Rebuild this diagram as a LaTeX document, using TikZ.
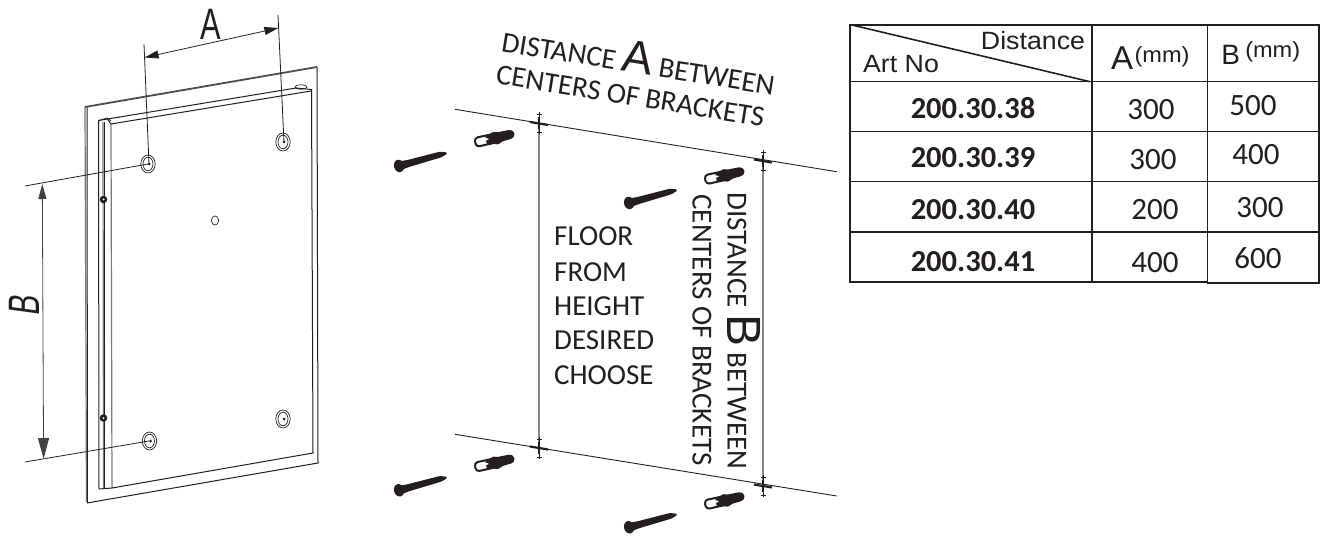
\documentclass[tikz,border=0pt]{standalone}
\usepackage{fontspec}
\setmainfont{Carlito}
\newfontfamily\arialf{Liberation Sans}
\usetikzlibrary{arrows.meta}
\definecolor{ink}{HTML}{231F20}
\tikzset{
  fr/.style={draw=ink,line width=1pt},
  frg/.style={draw=ink!60,line width=1.2pt},
  ext/.style={draw=ink,line width=0.8pt},
  dimA/.style={draw=ink,line width=0.8pt,{Triangle[length=14pt,width=8pt]}-{Triangle[length=14pt,width=8pt]}},
  dimB/.style={draw=ink!85,line width=0.8pt,{Triangle[length=15pt,width=8pt]}-{Triangle[length=21pt,width=11pt]}},
  ring/.style={draw=ink,line width=0.7pt},
  guide/.style={draw=ink,line width=0.9pt},
  plumb/.style={draw=ink!55,line width=1.4pt},
  txt/.style={inner sep=0pt,text=ink,font=\fontsize{29}{30}\selectfont},
  arl/.style={inner sep=0pt,text=ink,font=\arialf\fontsize{25}{26}\selectfont},
  mm/.style={inner sep=0pt,text=ink,xscale=1.07,font=\arialf\fontsize{22}{24}\selectfont},
  num/.style={inner sep=0pt,text=ink,font=\fontsize{31}{32}\selectfont},
  art/.style={inner sep=0pt,text=ink,font=\bfseries\fontsize{30.5}{31}\selectfont},
  tb/.style={draw=ink,line width=1.6pt},
  screwpic/.pic={
    \fill[ink] (-1,0) ellipse (5 and 6.3);
    \fill[ink,rounded corners=1pt] (0,-4.5) -- (8,-3.6) -- (42,-3.2) -- (48.5,-0.8) -- (48.5,0.8) -- (42,2.6) -- (8,3.6) -- (0,4.5) -- cycle;
  },
  anchorpic/.pic={
    \draw[ink,line width=2pt,rounded corners=3.5pt,fill=white] (1,-4.6) -- (22,-4.6) -- (22,4.2) -- (1,4.6) -- cycle;
    \fill[ink,rounded corners=1.5pt] (12,-4.6) -- (18,-5) -- (20,-7.2) -- (24,-5.4) -- (38,-5.2) -- (41,-2.6) -- (41,1.6) -- (38,3.8) -- (27,4.6) -- (23,7) -- (19,5) -- (12,5) -- cycle;
    \fill[white] (4,-2) -- (13,-2) -- (15,-0.4) -- (4,2.2) -- cycle;
  },
  crosspic/.pic={
    \draw[ink,line width=2.2pt] (-9,-1.5) -- (9,1.5);
    \draw[ink,line width=2.4pt] (0,-6) -- (0,6);
    \draw[ink,line width=1pt] (0,-11) -- (0,11);
    \draw[ink,line width=0.8pt] (-2.5,-9) -- (2.5,-9) (-2.5,9) -- (2.5,9);
  },
}
\begin{document}
\begin{tikzpicture}[x=1pt,y=-1pt]
\useasboundingbox (0,0) rectangle (1324,537);
\fill[white] (0,0) rectangle (1324,537);
% --- left panel: frame
\draw[frg] (85,107) -- (86.5,502);
\draw[fr] (87,107) -- (87.5,503);
\draw[fr,line width=1.8pt,draw=ink!80] (85,107) -- (317,67);
\draw[fr] (317,67) -- (318,463) -- (87,503);
\draw[fr] (98.5,120.5) -- (99,489) -- (112,488);
\draw[frg] (103,122) -- (103.5,488);
\draw[fr] (104.5,122) -- (104.5,488);
\draw[frg] (111,125) -- (112,488);
\draw[fr] (98.5,120.5) -- (296,88) (107,118.5) -- (111,124) -- (311,91);
\draw[fr] (296,88) -- (311.5,89.5) -- (313,453) -- (112,488);
\draw[ring] (301,87) ellipse (6 and 2.2);
\draw[ring] (98.5,120.5) -- (107,118) -- (111,121);
% holes
\foreach \x/\y in {148/164,283/142,149.5/441,283/419}{
  \draw[ring] (\x,\y) ellipse (7.2 and 9);
  \draw[ring] (\x,\y) ellipse (5 and 6.8);
  \fill[ink] (\x+1,\y) circle (1.5);
}
\foreach \x/\y in {103.5/199.5,103.5/418}{
  \fill[ink] (\x,\y) circle (3.8);
  \fill[white] (\x,\y) circle (1);
}
\draw[ring] (215,220.5) ellipse (3.6 and 4.6);
% dimensions
\coordinate (a1) at (144,44); \coordinate (a2) at (149,164);
\coordinate (a3) at (278,15); \coordinate (a4) at (284,142);
\draw[ext] (a1) -- (a2) (a3) -- (a4);
\draw[dimA] (144.6,57.5) -- (278.4,28);
\coordinate (b1) at (25,186); \coordinate (b2) at (148,164);
\coordinate (b3) at (25,462); \coordinate (b4) at (149,441);
\draw[ext] (b1) -- (b2) (b3) -- (b4);
\draw[dimB] (42.3,184) -- (43.6,459);
\node[inner sep=0pt,text=ink,xscale=0.7,font=\arialf\fontsize{44}{44}\selectfont] (labA) at (211,24) {A};
\node[inner sep=0pt,text=ink,rotate=90,xscale=0.68,xslant=0.2,font=\arialf\fontsize{44}{44}\selectfont] (labB) at (24,304) {B};
% --- middle panel
\coordinate (g1) at (455,109.3); \coordinate (g2) at (836.7,171.7);
\coordinate (g3) at (455,434.3); \coordinate (g4) at (836.7,496);
\coordinate (c1) at (539,123.5); \coordinate (c2) at (763,161);
\coordinate (c3) at (539,448); \coordinate (c4) at (763,486);
\draw[guide] (g1) -- (g2) (g3) -- (g4);
\draw[plumb] (c1) -- (c3) (c2) -- (c4);
\foreach \c in {c1,c2,c3,c4} \pic at (\c) {crosspic};
\foreach \x/\y in {400/165.7,630/202.7,400/490,630/527} \pic[rotate=15] at (\x,\y) {screwpic};
\foreach \x/\y in {474.3/142.7,704.3/180,474.3/467.4,704.3/505} \pic[rotate=12] at (\x,\y) {anchorpic};
\node[txt,rotate=-9.2,anchor=base] (t1) at (636.7,73.3) {DISTANCE {\fontsize{46}{46}\selectfont\arialf A} BETWEEN};
\node[txt,rotate=-9.2,anchor=base] (t2) at (629,105) {CENTERS OF BRACKETS};
\node[txt,rotate=-90,anchor=base] (t3) at (727.5,331) {DISTANCE {\fontsize{48}{48}\selectfont\arialf B} BETWEEN};
\node[txt,rotate=-90,anchor=base] (t4) at (692.5,330) {CENTERS OF BRACKETS};
\foreach \n/\s/\y in {f1/FLOOR/246,f2/FROM/281,f3/HEIGHT/315,f4/DESIRED/349,f5/CHOOSE/384}
  \node[txt,anchor=base west] (\n) at (554,\y) {\s};
% --- table
\draw[tb] (850,25) rectangle (1092,282);
\draw[tb] (1092,25) -- (1319,25) -- (1319,283) -- (1207.5,283) -- (1207.5,25);
\draw[tb] (1092,282) -- (1207.5,282);
\foreach \y in {81.7,131.7,181.7,232} \draw[tb] (850,\y) -- (1319,\y);
\coordinate (d1) at (852,25); \coordinate (d2) at (1090,81.7);
\draw[tb] (d1) -- (d2);
\node[arl,xscale=1.07] (hd) at (1033,41) {Distance};
\node[arl,xscale=1.07] (ha) at (901,64.5) {Art No};
\node[inner sep=0pt,text=ink,font=\arialf\fontsize{33}{33}\selectfont] (ca) at (1122,58) {A};
\node[mm] (cam) at (1162,56.7) {(mm)};
\node[inner sep=0pt,text=ink,font=\arialf\fontsize{28}{28}\selectfont] (cb) at (1230.7,55) {B};
\node[mm] (cbm) at (1272.7,52) {(mm)};
\node[art] (r1) at (973,108) {200.30.38};
\node[art] (r2) at (973,158) {200.30.39};
\node[art] (r3) at (973,210) {200.30.40};
\node[art] (r4) at (973,262) {200.30.41};
\node[num] (a1v) at (1151,110) {300};
\node[num] (a2v) at (1153,160) {300};
\node[num] (a3v) at (1155,210) {200};
\node[num] (a4v) at (1155,263) {400};
\node[num] (b1v) at (1253,106) {500};
\node[num] (b2v) at (1256,155) {400};
\node[num] (b3v) at (1260,208) {300};
\node[num] (b4v) at (1258,258) {600};
\end{tikzpicture}
\end{document}
